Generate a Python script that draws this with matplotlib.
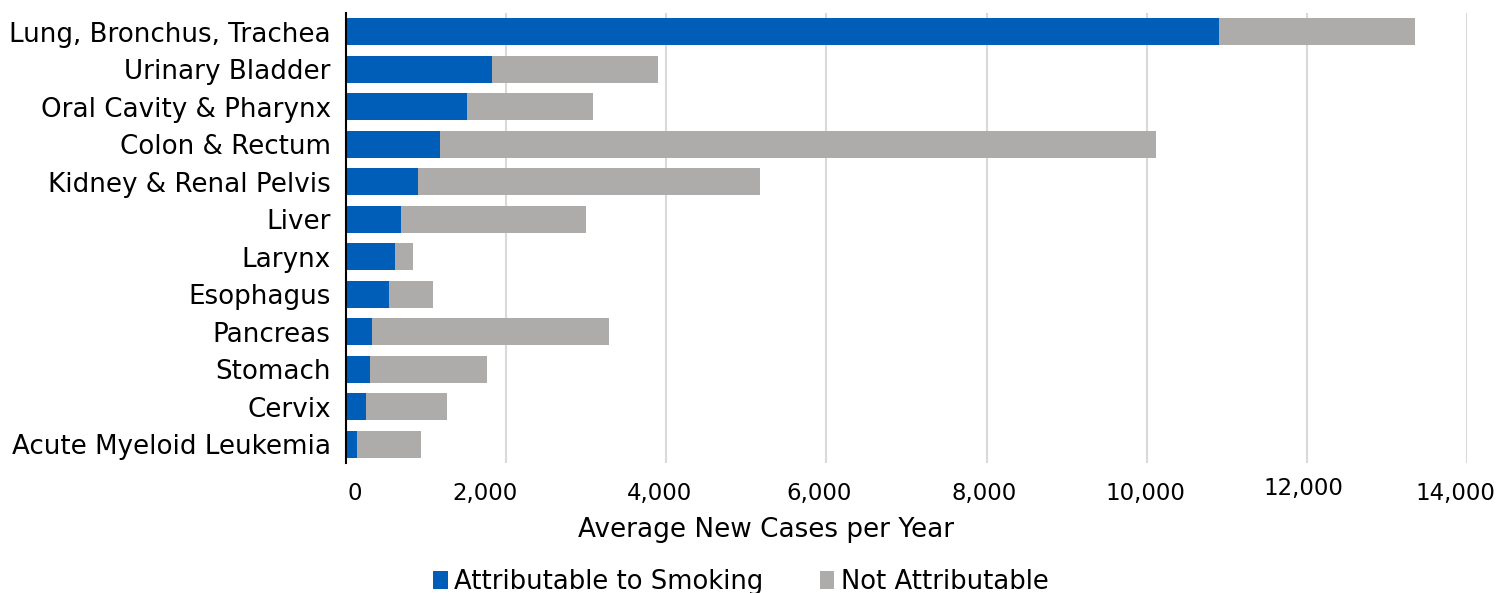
import matplotlib
matplotlib.use("Agg")
import matplotlib.pyplot as plt
from matplotlib.transforms import ScaledTranslation

# cancer sites, top to bottom
sites = ["Lung, Bronchus, Trachea", "Urinary Bladder", "Oral Cavity & Pharynx",
         "Colon & Rectum", "Kidney & Renal Pelvis", "Liver", "Larynx", "Esophagus",
         "Pancreas", "Stomach", "Cervix", "Acute Myeloid Leukemia"]
smoking = [10900, 1825, 1512, 1175, 900, 688, 612, 538, 325, 300, 250, 137]
total = [13350, 3900, 3088, 10112, 5175, 3000, 838, 1088, 3288, 1762, 1262, 938]
not_attr = [t - s for t, s in zip(total, smoking)]
xticks = list(range(0, 14001, 2000))

blue = "#005EB8"
grey = "#ADACAA"

fig = plt.figure(figsize=(14.98, 5.93), dpi=100)
ax = fig.add_axes([346 / 1498, 1 - 463 / 593, 1121 / 1498, 450 / 593])

y = list(range(len(sites)))
ax.barh(y, smoking, height=0.72, color=blue, label="Attributable to Smoking", zorder=3)
ax.barh(y, not_attr, left=smoking, height=0.72, color=grey, label="Not Attributable", zorder=3)

ax.set_ylim(len(sites) - 0.5, -0.5)
ax.set_xlim(0, 14000)
ax.set_yticks(y)
ax.set_yticklabels(sites, fontsize=18.8)
ax.set_xticks(xticks)
ax.set_xticklabels([f"{v:,}" for v in xticks], fontsize=16.5)
ax.tick_params(axis="both", length=0)
ax.tick_params(axis="x", pad=14)
ax.tick_params(axis="y", pad=11)

# the original's tick labels sit a little off their gridlines
nudge = [(9, 0), (-21, 0), (-7, 0), (-7, 0), (-2, 0), (-1, 0), (-3, 5), (-12, 0)]
for lab, (dx, dy) in zip(ax.get_xticklabels(), nudge):
    lab.set_transform(lab.get_transform() + ScaledTranslation(dx / 100, dy / 100, fig.dpi_scale_trans))

ax.grid(axis="x", color="#D9D9D9", linewidth=1.5, zorder=0)
for s in ["top", "right", "bottom"]:
    ax.spines[s].set_visible(False)
ax.spines["left"].set_linewidth(1.5)
ax.spines["left"].set_zorder(4)

ax.set_xlabel("Average New Cases per Year", fontsize=18.9)
ax.xaxis.set_label_coords((766 - 346) / 1121, (463 - 517) / 450)

fig.legend(loc="center", bbox_to_anchor=(741 / 1498, 1 - 582 / 593), ncol=2,
           frameon=False, fontsize=18.6, handlelength=0.55, handleheight=0.75,
           handletextpad=0.25, columnspacing=2.2)

fig.savefig("out.png", dpi=100)
